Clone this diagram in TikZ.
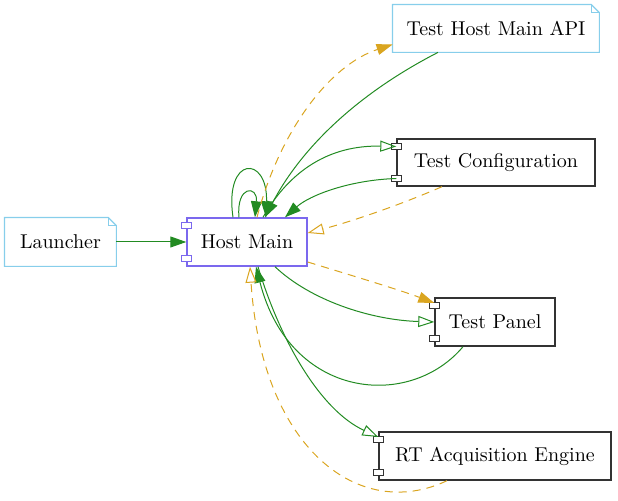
\documentclass[tikz,border=0pt]{standalone}
\usepackage{tikz}
\usetikzlibrary{arrows.meta}

\definecolor{linkgreen}{HTML}{228B22}
\definecolor{linkgold}{HTML}{DAA520}
\definecolor{notecol}{HTML}{87CEEB}
\definecolor{hostcol}{HTML}{7B68EE}

\begin{document}
\begin{tikzpicture}[x=0.5pt, y=-0.5pt,
  notebox/.style={inner sep=0pt, minimum height=24pt,
    append after command={\pgfextra{
      \draw[notecol, line width=0.6pt] (\tikzlastnode.north west) -- ([xshift=-4pt]\tikzlastnode.north east)
        -- ([yshift=-4pt]\tikzlastnode.north east) -- (\tikzlastnode.south east)
        -- (\tikzlastnode.south west) -- cycle;
      \draw[notecol, line width=0.5pt] ([xshift=-4pt]\tikzlastnode.north east) |- ([yshift=-4pt]\tikzlastnode.north east);}}},
  compbox/.style={draw=#1, line width=0.7pt, inner sep=0pt, minimum height=24pt},
  compbox/.default=black!80,
  port/.style={fill=white, line width=0.5pt},
  arr/.style={-{Triangle[length=8pt,width=5.5pt]}, linkgreen, line width=0.5pt},
  arropen/.style={-{Triangle[open,length=8pt,width=5.5pt]}, linkgreen, line width=0.5pt},
  arrdash/.style={-{Triangle[length=8pt,width=5.5pt]}, linkgold, line width=0.5pt, dash pattern=on 4pt off 3pt},
  arrdashopen/.style={-{Triangle[open,length=8pt,width=5.5pt]}, linkgold, line width=0.5pt, dash pattern=on 4pt off 3pt}
]
\useasboundingbox (0,0) rectangle (618,501);

% nodes
\node[notebox, minimum width=55.5pt] (launch) at (60.5,242) {Launcher};
\node[compbox=hostcol, minimum width=60pt] (host) at (247,242) {Host Main};
\node[notebox, minimum width=103pt, minimum height=23.5pt] (api) at (496,28.5) {Test Host Main API};
\node[compbox, minimum width=99pt, minimum height=23.5pt] (conf) at (496,162.5) {Test Configuration};
\node[compbox, minimum width=60pt] (panel) at (495,322) {Test Panel};
\node[compbox, minimum width=116pt] (rt) at (495,456) {RT Acquisition Engine};

% component ports
\foreach \comp/\col in {host/hostcol, conf/black!80, panel/black!80, rt/black!80} {
  \draw[port, draw=\col] ([xshift=-2.5pt,yshift=-2.5pt]\comp.north west) rectangle ++(5pt,-3.2pt);
  \draw[port, draw=\col] ([xshift=-2.5pt,yshift=2.5pt]\comp.south west) rectangle ++(5pt,3.2pt);
}

% links
\draw[arr] (launch) -- (host);
\draw[arr] ([xshift=-4pt]host.north) .. controls (236,185) and (258,185) .. ([xshift=4pt]host.north);
\draw[arr] ([xshift=-7pt]host.north) .. controls (224,155) and (268,155) .. ([xshift=9.5pt]host.north);
\draw[arrdash] ([xshift=5pt]host.north) .. controls (280,130) and (330,65) .. ([yshift=-8pt]api.west);
\draw[arr] ([xshift=-29pt]api.south) .. controls (355,95) and (300,150) .. ([xshift=9pt]host.north);
\draw[arropen] ([xshift=8pt]host.north) .. controls (290,170) and (330,145) .. ([yshift=8pt]conf.west);
\draw[arr] ([yshift=-8pt]conf.west) .. controls (350,180) and (310,195) .. ([xshift=19pt]host.north);
\draw[arrdashopen] ([xshift=-27pt]conf.south) .. controls (400,205) and (350,222) .. ([yshift=4.5pt]host.east);
\draw[arrdash] ([yshift=-10pt]host.east) .. controls (350,275) and (400,290) .. ([yshift=9.5pt]panel.west);
\draw[arropen] ([xshift=14pt]host.south) .. controls (310,300) and (370,320) .. (panel.west);
\draw[arr] ([xshift=-16pt]panel.south) .. controls (410,410) and (290,400) .. ([xshift=4.5pt]host.south);
\draw[arropen] ([xshift=5.5pt]host.south) .. controls (280,340) and (320,410) .. ([yshift=9.5pt]rt.west);
\draw[arrdashopen] ([xshift=-24pt]rt.south) .. controls (360,522) and (262,450) .. ([xshift=1.5pt]host.south);
\end{tikzpicture}
\end{document}
